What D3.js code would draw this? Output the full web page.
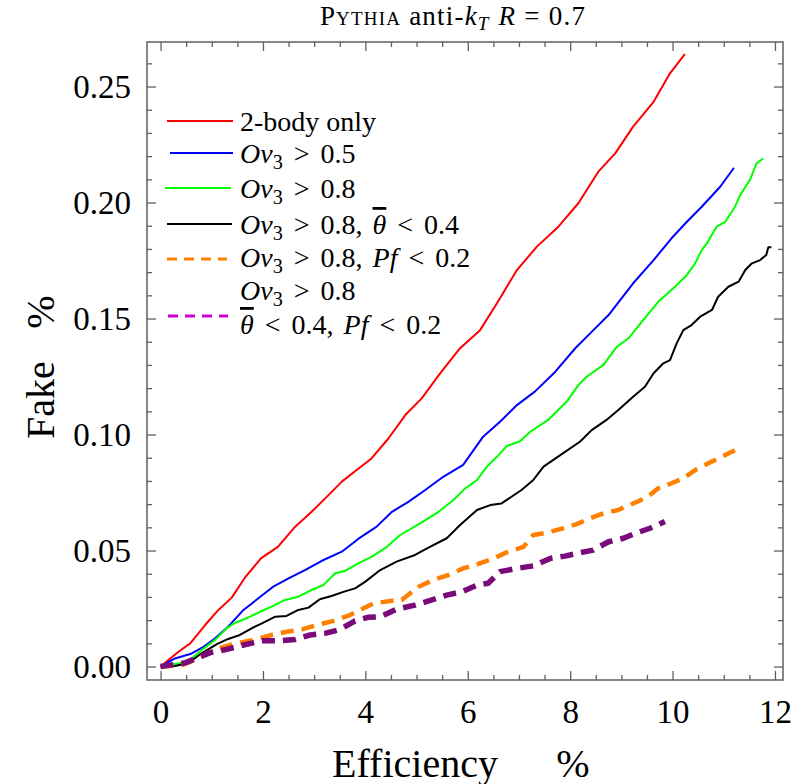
<!DOCTYPE html>
<html><head><meta charset="utf-8">
<script src="https://cdn.jsdelivr.net/npm/d3@7"></script>
<style>
html,body{margin:0;padding:0;background:#fff;}
svg{display:block;}
</style></head>
<body>
<svg id="chart" width="802" height="784"></svg>
<script>
// ---------- data ----------
const seriesNames = ["2-body only","Ov3 > 0.5","Ov3 > 0.8","Ov3 > 0.8, theta < 0.4","Ov3 > 0.8, Pf < 0.2","Ov3 > 0.8, theta < 0.4, Pf < 0.2"];
const redE = [0,0.35,0.58,0.87,1.13,1.39,1.65,1.96,2.29,2.63,2.95,3.28,3.54,3.83,4.12,4.45,4.78,5.10,5.46,5.85,6.24,6.57,6.96,7.35,7.77,8.16,8.55,8.88,9.23,9.63,9.95,10.24];
const redF = [0,0.0064,0.010,0.0179,0.0244,0.0297,0.0384,0.0466,0.0516,0.0603,0.0667,0.0739,0.0797,0.0847,0.0897,0.0983,0.1084,0.1156,0.1264,0.1372,0.1450,0.1566,0.1709,0.1810,0.1896,0.1997,0.2133,0.2212,0.2327,0.2434,0.2557,0.2640];
const blueE = [0,0.28,0.58,0.84,1.06,1.32,1.62,1.91,2.20,2.50,2.82,3.15,3.54,3.86,4.22,4.52,4.84,5.17,5.52,5.91,6.30,6.63,6.96,7.31,7.71,8.10,8.39,8.75,9.23,9.63,9.98,10.28,10.57,10.93,11.20];
const blueF = [0,0.0035,0.0054,0.0085,0.0121,0.0172,0.0244,0.0294,0.0344,0.0380,0.0416,0.0456,0.0495,0.0550,0.0603,0.0667,0.0710,0.0761,0.0818,0.0869,0.0991,0.1055,0.1127,0.1185,0.1271,0.1372,0.1436,0.1515,0.1652,0.1752,0.1846,0.1917,0.1982,0.2068,0.2150];
const greenE = [0,0.28,0.54,0.80,1.06,1.29,1.46,1.68,1.94,2.17,2.43,2.69,2.95,3.18,3.41,3.60,3.86,4.12,4.42,4.68,5.07,5.43,5.72,5.95,6.18,6.37,6.57,6.76,7.02,7.22,7.57,7.93,8.16,8.32,8.65,8.91,9.14,9.43,9.72,10.08,10.28,10.44,10.57,10.67,10.86,11.03,11.22,11.32,11.51,11.64,11.77];
const greenF = [0,0.0011,0.0021,0.0071,0.0114,0.0165,0.0189,0.0208,0.0236,0.0258,0.0287,0.0301,0.0330,0.0351,0.0402,0.0412,0.0445,0.0473,0.0516,0.0567,0.0617,0.0667,0.0718,0.0768,0.0804,0.0861,0.0904,0.0950,0.0971,0.1012,0.1063,0.1141,0.1213,0.1249,0.1300,0.1378,0.1415,0.1494,0.1572,0.1644,0.1688,0.1738,0.1795,0.1824,0.1896,0.1917,0.1982,0.2032,0.2097,0.2169,0.2190];
const blackE = [0,0.28,0.54,0.80,1.10,1.32,1.55,1.78,1.98,2.24,2.46,2.69,2.89,3.11,3.34,3.57,3.80,4.0,4.29,4.61,4.97,5.26,5.59,5.85,6.18,6.44,6.66,7.05,7.28,7.48,7.80,8.19,8.42,8.71,8.94,9.23,9.46,9.63,9.82,9.95,10.08,10.21,10.37,10.54,10.77,10.89,11.09,11.29,11.42,11.55,11.71,11.83,11.87,11.93];
const blackF = [0,0.0002,0.0014,0.0057,0.0097,0.0119,0.0136,0.0165,0.0186,0.0215,0.0218,0.0244,0.0254,0.0290,0.0304,0.0322,0.0337,0.0366,0.0416,0.0452,0.0481,0.0516,0.0553,0.0610,0.0675,0.0696,0.0703,0.0761,0.0804,0.0862,0.0910,0.0969,0.1019,0.1063,0.1106,0.1163,0.1206,0.1264,0.1307,0.1321,0.1393,0.1450,0.1472,0.1508,0.1537,0.1594,0.1637,0.1659,0.1709,0.1738,0.1752,0.1774,0.1807,0.1807];
const orangeE = [0,0.41,0.74,1.03,1.36,1.65,1.94,2.17,2.46,2.76,3.05,3.38,3.67,3.90,4.16,4.52,4.71,5.04,5.36,5.65,5.91,6.18,6.50,6.76,7.09,7.28,7.54,7.87,8.13,8.39,8.65,8.94,9.23,9.50,9.72,9.98,10.21,10.44,10.70,10.96,11.22];
const orangeF = [0,0.0006,0.0035,0.0071,0.0093,0.0107,0.0122,0.0136,0.0150,0.0160,0.0179,0.0197,0.0219,0.0244,0.0272,0.0284,0.0287,0.0344,0.0376,0.0397,0.0423,0.0440,0.0466,0.0492,0.0516,0.0567,0.0577,0.0596,0.0614,0.0639,0.0660,0.0675,0.0703,0.0729,0.0768,0.0790,0.0811,0.0847,0.0876,0.0904,0.0933];
const purpleE = [0,0.48,0.97,1.29,1.62,1.98,2.30,2.63,2.92,3.21,3.51,3.80,4.05,4.29,4.61,4.97,5.30,5.59,5.88,6.18,6.40,6.63,6.96,7.28,7.61,7.90,8.19,8.45,8.75,9.04,9.27,9.56,9.85];
const purpleF = [0,0.0016,0.0060,0.0074,0.0093,0.0111,0.0111,0.0117,0.0136,0.0143,0.0160,0.0197,0.0212,0.0215,0.0247,0.0265,0.0287,0.0308,0.0322,0.0351,0.0359,0.0409,0.0423,0.0434,0.0466,0.0476,0.0491,0.0502,0.0538,0.0553,0.0574,0.0596,0.0625];
const xMajorTicks = [0,2,4,6,8,10,12];
const yMajorTicks = [0,0.05,0.10,0.15,0.20,0.25];

// ---------- layout ----------
const SERIF = '"Liberation Serif","Times New Roman",serif';
const L = 147, R = 783, T = 42, B = 680;
const svg = d3.select("#chart");
const x = d3.scaleLinear().domain([-0.265, 12.157]).range([L, R]);
const y = d3.scaleLinear().domain([-0.0058, 0.2692]).range([B, T]);

const frameColor = "#606060";
const xMinor = d3.range(0, 12.01, 0.5).filter(v => Math.abs(v/2 - Math.round(v/2)) > 1e-6);
const yMinor = d3.range(0, 0.2651, 0.01).filter(v => Math.abs(v/0.05 - Math.round(v/0.05)) > 1e-6);

function styleAxis(g){
  g.select(".domain").remove();
  g.selectAll(".tick line").attr("stroke", frameColor).attr("stroke-width", 1.3);
  g.selectAll("text").style("font-family", SERIF).style("font-size","33px").attr("fill","#000");
}
// bottom
svg.append("g").attr("transform",`translate(0,${B})`)
  .call(d3.axisBottom(x).tickValues(xMajorTicks).tickSize(-9).tickPadding(20).tickFormat(d3.format("d")))
  .call(styleAxis);
svg.append("g").attr("transform",`translate(0,${B})`)
  .call(d3.axisBottom(x).tickValues(xMinor).tickSize(-5).tickFormat(""))
  .call(styleAxis);
// top
svg.append("g").attr("transform",`translate(0,${T})`)
  .call(d3.axisTop(x).tickValues(xMajorTicks).tickSize(-9).tickFormat(""))
  .call(styleAxis);
svg.append("g").attr("transform",`translate(0,${T})`)
  .call(d3.axisTop(x).tickValues(xMinor).tickSize(-5).tickFormat(""))
  .call(styleAxis);
// left
svg.append("g").attr("transform",`translate(${L},0)`)
  .call(d3.axisLeft(y).tickValues(yMajorTicks).tickSize(-9).tickPadding(16).tickFormat(d3.format(".2f")))
  .call(styleAxis);
svg.append("g").attr("transform",`translate(${L},0)`)
  .call(d3.axisLeft(y).tickValues(yMinor).tickSize(-5).tickFormat(""))
  .call(styleAxis);
// right
svg.append("g").attr("transform",`translate(${R},0)`)
  .call(d3.axisRight(y).tickValues(yMajorTicks).tickSize(-9).tickFormat(""))
  .call(styleAxis);
svg.append("g").attr("transform",`translate(${R},0)`)
  .call(d3.axisRight(y).tickValues(yMinor).tickSize(-5).tickFormat(""))
  .call(styleAxis);
// frame
svg.append("rect").attr("x",L).attr("y",T).attr("width",R-L).attr("height",B-T)
  .attr("fill","none").attr("stroke",frameColor).attr("stroke-width",1.5);

// ---------- curves ----------
const series = [
  {e:redE, f:redF, color:"#ff0000", w:2, dash:null},
  {e:blueE, f:blueF, color:"#0000ff", w:2, dash:null},
  {e:greenE, f:greenF, color:"#00ff00", w:2, dash:null},
  {e:blackE, f:blackF, color:"#000000", w:2, dash:null},
  {e:orangeE, f:orangeF, color:"#ff8000", w:4.5, dash:"13,8"},
  {e:purpleE, f:purpleF, color:"#7a0a7a", w:5.5, dash:"13,8"}
];
const line = d3.line().x(d=>x(d[0])).y(d=>y(d[1]));
svg.append("clipPath").attr("id","plotclip").append("rect")
  .attr("x",L).attr("y",T).attr("width",R-L).attr("height",B-T);
series.forEach(s=>{
  svg.append("path").datum(d3.zip(s.e, s.f))
    .attr("d", line).attr("fill","none").attr("stroke", s.color)
    .attr("stroke-width", s.w).attr("stroke-linejoin","round")
    .attr("stroke-dasharray", s.dash).attr("clip-path","url(#plotclip)");
});

// ---------- legend ----------
const leg = svg.append("g");
const legendRows = [
  {y:121, color:"#ff0000", w:2, dash:null, x1:167, x2:233},
  {y:153, color:"#0000ff", w:2, dash:null, x1:170, x2:233},
  {y:188, color:"#00ff00", w:2, dash:null, x1:165, x2:231},
  {y:224, color:"#000000", w:2, dash:null, x1:167, x2:232},
  {y:259, color:"#ff8000", w:3, dash:"10,7", x1:167, x2:227},
  {y:316, color:"#d000d0", w:3, dash:"10,7", x1:168, x2:228}
];
legendRows.forEach(r=>{
  leg.append("line").attr("x1",r.x1).attr("x2",r.x2).attr("y1",r.y).attr("y2",r.y)
    .attr("stroke",r.color).attr("stroke-width",r.w).attr("stroke-dasharray",r.dash);
});
const fs = 28, tx = 240;
function mathLine(yb, parts){
  const t = leg.append("text").attr("x",tx).attr("y",yb)
    .style("font-family",SERIF).style("font-size",fs+"px").attr("fill","#000");
  parts.forEach(p=>{
    const ts = t.append("tspan").text(p.t);
    if(p.i) ts.style("font-style","italic");
    if(p.sub) ts.style("font-size",(fs*0.72)+"px").attr("dy",6);
    if(p.up) ts.attr("dy",-6);
    if(p.dx) ts.attr("dx",p.dx);
    if(p.bar) ts.style("text-decoration","overline");
  });
  return t;
}
mathLine(131,[{t:"2-body only"}]);
mathLine(163,[{t:"Ov",i:1},{t:"3",sub:1},{t:">",up:1,dx:11},{t:"0.5",dx:11}]);
mathLine(198,[{t:"Ov",i:1},{t:"3",sub:1},{t:">",up:1,dx:11},{t:"0.8",dx:11}]);
mathLine(234,[{t:"Ov",i:1},{t:"3",sub:1},{t:">",up:1,dx:11},{t:"0.8,",dx:11},{t:"θ",i:1,bar:1,dx:10},{t:"<",dx:11},{t:"0.4",dx:11}]);
mathLine(267,[{t:"Ov",i:1},{t:"3",sub:1},{t:">",up:1,dx:11},{t:"0.8,",dx:11},{t:"Pf",i:1,dx:10},{t:"<",dx:11},{t:"0.2",dx:11}]);
mathLine(300,[{t:"Ov",i:1},{t:"3",sub:1},{t:">",up:1,dx:11},{t:"0.8",dx:11}]);
mathLine(334,[{t:"θ",i:1,bar:1},{t:"<",dx:11},{t:"0.4,",dx:11},{t:"Pf",i:1,dx:10},{t:"<",dx:11},{t:"0.2",dx:11}]);

// ---------- titles ----------
const title = svg.append("text").attr("x",453).attr("y",25).attr("text-anchor","middle")
  .style("font-family",SERIF).style("font-size","27px").style("letter-spacing","1.2px").attr("fill","#000");
title.append("tspan").text("Pythia").style("font-variant","small-caps");
title.append("tspan").text(" anti-");
title.append("tspan").text("k").style("font-style","italic");
title.append("tspan").text("T").style("font-style","italic").style("font-size","19px").attr("dy",5);
title.append("tspan").text("R").style("font-style","italic").attr("dy",-5).attr("dx",9);
title.append("tspan").text("=").attr("dx",8);
title.append("tspan").text("0.7").attr("dx",8);

function axTitle(sel){ return sel.style("font-family",SERIF).style("font-size","40px").attr("fill","#000").attr("text-anchor","middle"); }
axTitle(svg.append("text").attr("x",415).attr("y",777)).text("Efficiency");
axTitle(svg.append("text").attr("x",573).attr("y",777)).text("%");
axTitle(svg.append("text").attr("transform","translate(54,400) rotate(-90)")).text("Fake");
axTitle(svg.append("text").attr("transform","translate(54,312) rotate(-90)")).text("%");
</script>
</body></html>
